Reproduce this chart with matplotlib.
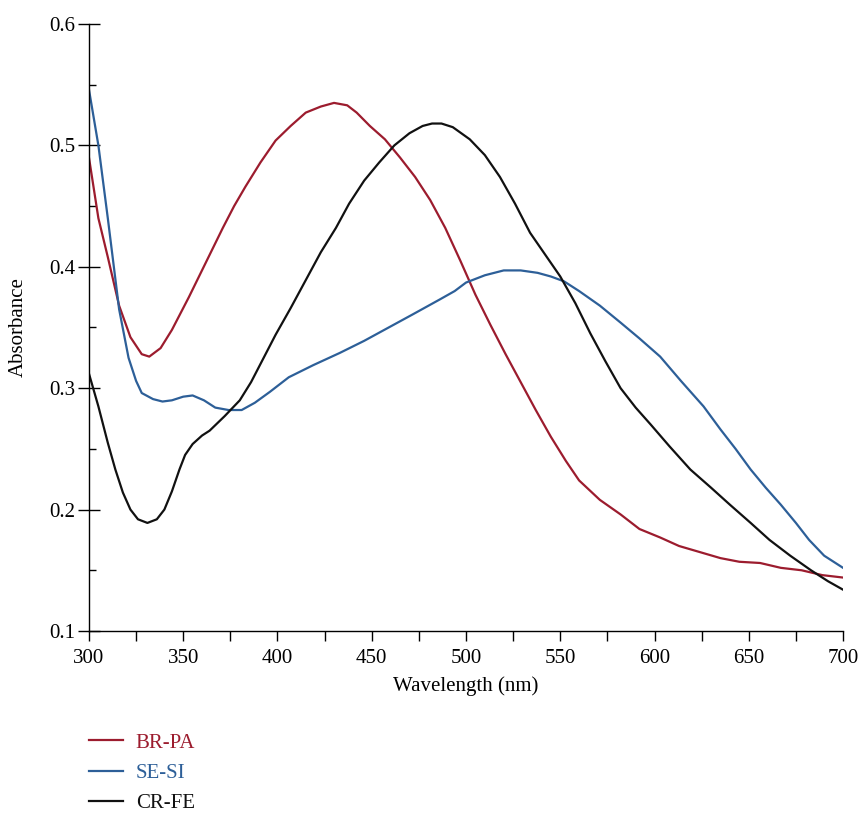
import matplotlib
matplotlib.use("Agg")
import matplotlib.pyplot as plt
from matplotlib.ticker import MultipleLocator

plt.rcParams["font.family"] = ["Liberation Serif", "DejaVu Serif"]

# spectra (wavelength nm, absorbance)
br_pa_x = [300, 305, 310, 316, 322, 328, 332, 338, 344, 353, 359, 365, 371, 377, 383, 391, 399,
           407, 415, 423, 430, 437, 442, 449, 457, 465, 473, 481, 489, 497, 505, 513, 521,
           529, 537, 545, 553, 560, 571, 582, 592, 603, 613, 624, 635, 645, 656, 667, 678,
           689, 700]
br_pa_y = [0.490, 0.440, 0.408, 0.368, 0.342, 0.328, 0.326, 0.333, 0.348, 0.375, 0.394, 0.413,
           0.432, 0.450, 0.466, 0.486, 0.504, 0.516, 0.527, 0.532, 0.535, 0.533, 0.527, 0.516,
           0.505, 0.490, 0.474, 0.455, 0.432, 0.405, 0.377, 0.352, 0.328, 0.305, 0.282, 0.260,
           0.240, 0.224, 0.208, 0.196, 0.184, 0.177, 0.170, 0.165, 0.160, 0.157, 0.156, 0.152,
           0.150, 0.146, 0.144]

se_si_x = [300, 305, 310, 316, 321, 325, 328, 334, 339, 344, 350, 355, 361, 367, 374, 381,
           388, 396, 406, 419, 433, 446, 459, 472, 486, 494, 500, 510, 520, 529, 538, 545,
           552, 560, 571, 582, 592, 603, 614, 626, 635, 643, 651, 659, 667, 675, 682, 690, 700]
se_si_y = [0.546, 0.500, 0.440, 0.365, 0.325, 0.306, 0.296, 0.291, 0.289, 0.290, 0.293, 0.294,
           0.290, 0.284, 0.282, 0.282, 0.288, 0.297, 0.309, 0.319, 0.329, 0.339, 0.350, 0.361,
           0.373, 0.380, 0.387, 0.393, 0.397, 0.397, 0.395, 0.392, 0.388, 0.380, 0.368, 0.354,
           0.341, 0.326, 0.306, 0.285, 0.266, 0.250, 0.233, 0.218, 0.204, 0.189, 0.175, 0.162,
           0.152]

cr_fe_x = [300, 305, 310, 314, 318, 322, 326, 331, 336, 340, 344, 348, 351, 355, 360, 364,
           372, 380, 386, 391, 399, 407, 415, 423, 431, 438, 446, 454, 462, 470, 477, 482,
           487, 493, 502, 510, 518, 526, 534, 542, 550, 558, 566, 574, 582, 590, 598,
           608, 619, 630, 640, 651, 661, 672, 683, 692, 700]
cr_fe_y = [0.312, 0.285, 0.255, 0.233, 0.214, 0.200, 0.192, 0.189, 0.192, 0.200, 0.215, 0.233,
           0.245, 0.254, 0.261, 0.265, 0.277, 0.290, 0.305, 0.320, 0.344, 0.366, 0.389, 0.412,
           0.432, 0.452, 0.471, 0.486, 0.500, 0.510, 0.516, 0.518, 0.518, 0.515, 0.505, 0.492,
           0.474, 0.452, 0.428, 0.410, 0.392, 0.370, 0.345, 0.322, 0.300, 0.284, 0.270,
           0.252, 0.233, 0.218, 0.204, 0.189, 0.175, 0.162, 0.150, 0.141, 0.134]

labels = ["BR-PA", "SE-SI", "CR-FE"]
colors = ["#9c1c2e", "#2d5f98", "#111111"]

fig = plt.figure(figsize=(8.62, 8.13), dpi=100)
ax = fig.add_axes([0.1032, 0.2239, 0.8748, 0.7466])

for xs, ys, lab, c in zip([br_pa_x, se_si_x, cr_fe_x], [br_pa_y, se_si_y, cr_fe_y], labels, colors):
    ax.plot(xs, ys, color=c, lw=1.6, label=lab)

ax.set_xlim(300, 700)
ax.set_ylim(0.1, 0.6)
ax.xaxis.set_major_locator(MultipleLocator(50))
ax.xaxis.set_minor_locator(MultipleLocator(25))
ax.yaxis.set_major_locator(MultipleLocator(0.1))
ax.yaxis.set_minor_locator(MultipleLocator(0.05))

for s in ["top", "right"]:
    ax.spines[s].set_visible(False)
for s in ["left", "bottom"]:
    ax.spines[s].set_linewidth(1.0)

ax.tick_params(axis="x", which="both", direction="out", length=7, width=1.0, labelsize=15, pad=6)
ax.tick_params(axis="y", which="major", direction="inout", length=16, width=1.0, labelsize=15, pad=2)
ax.tick_params(axis="y", which="minor", direction="in", length=5, width=1.0)

ax.set_xlabel("Wavelength (nm)", fontsize=15, labelpad=6)
ax.set_ylabel("Absorbance", fontsize=15)
ax.yaxis.set_label_coords(-0.081, 0.5)

fig.legend(loc="upper left", bbox_to_anchor=(89 / 862, 1 - 733 / 813), frameon=False, fontsize=15,
           labelcolor="linecolor", handlelength=1.65, handletextpad=0.6, labelspacing=0.52,
           borderpad=0, borderaxespad=0)

fig.savefig("out.png", dpi=100)
